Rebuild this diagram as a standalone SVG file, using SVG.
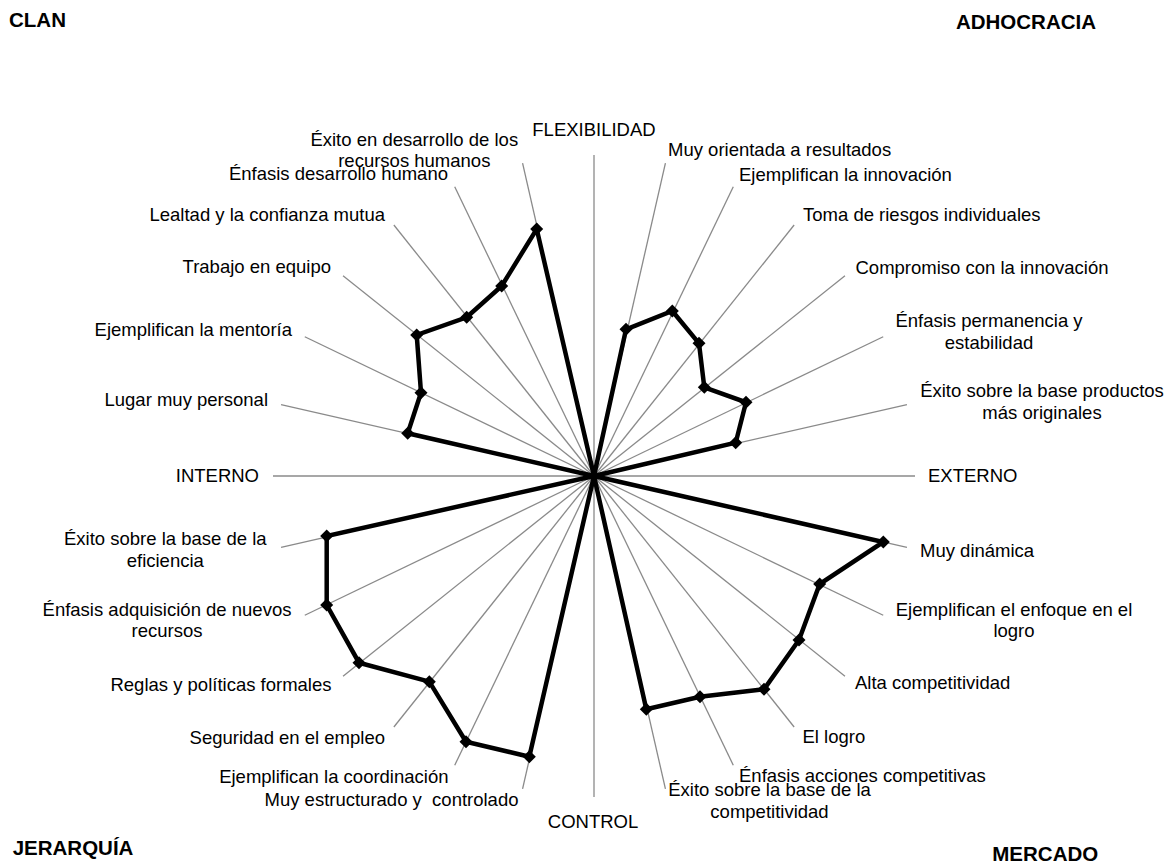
<svg xmlns="http://www.w3.org/2000/svg" width="1173" height="863" viewBox="0 0 1173 863">
<style>
.sp{stroke:#8a8a8a;stroke-width:1.3;fill:none}
.ser{stroke:#000;stroke-width:4.5;fill:none;stroke-linejoin:miter}
text{font-family:"Liberation Sans",Arial,sans-serif;font-size:18.5px;fill:#000}
.c{font-weight:bold;font-size:20.5px}
.m{text-anchor:middle}
.e{text-anchor:end}
</style>
<defs>
<path id="dm" d="M0,-6.5L6.5,0L0,6.5L-6.5,0Z" fill="#000"/>
</defs>
<rect width="1173" height="863" fill="#fff"/>
<g id="spokes" class="sp">
<line x1="594" y1="476" x2="594" y2="155"/>
<line x1="594" y1="476" x2="665.43" y2="163.05"/>
<line x1="594" y1="476" x2="733.28" y2="186.79"/>
<line x1="594" y1="476" x2="794.14" y2="225.03"/>
<line x1="594" y1="476" x2="844.97" y2="275.86"/>
<line x1="594" y1="476" x2="883.21" y2="336.72"/>
<line x1="594" y1="476" x2="906.95" y2="404.57"/>
<line x1="594" y1="476" x2="915" y2="476"/>
<line x1="594" y1="476" x2="906.95" y2="547.43"/>
<line x1="594" y1="476" x2="883.21" y2="615.28"/>
<line x1="594" y1="476" x2="844.97" y2="676.14"/>
<line x1="594" y1="476" x2="794.14" y2="726.97"/>
<line x1="594" y1="476" x2="733.28" y2="765.21"/>
<line x1="594" y1="476" x2="665.43" y2="788.95"/>
<line x1="594" y1="476" x2="594" y2="797"/>
<line x1="594" y1="476" x2="522.57" y2="788.95"/>
<line x1="594" y1="476" x2="454.72" y2="765.21"/>
<line x1="594" y1="476" x2="393.86" y2="726.97"/>
<line x1="594" y1="476" x2="343.03" y2="676.14"/>
<line x1="594" y1="476" x2="304.79" y2="615.28"/>
<line x1="594" y1="476" x2="281.05" y2="547.43"/>
<line x1="594" y1="476" x2="273" y2="476"/>
<line x1="594" y1="476" x2="281.05" y2="404.57"/>
<line x1="594" y1="476" x2="304.79" y2="336.72"/>
<line x1="594" y1="476" x2="343.03" y2="275.86"/>
<line x1="594" y1="476" x2="393.86" y2="225.03"/>
<line x1="594" y1="476" x2="454.72" y2="186.79"/>
<line x1="594" y1="476" x2="522.57" y2="163.05"/>
</g>
<g id="series">
<path class="ser" d="M594,476 L626,329.3 L672.3,311 L699,343.3 L704.3,387.3 L746,402.3 L735.7,442.7 L594,476 L883.3,542 L819.7,584 L799,640 L764,689.3 L700,696.7 L646.3,709.3 L594,476 L529.3,756.7 L466,741.7 L429.3,681.7 L359,662.7 L326.7,605 L326.7,536 L594,476 L407.7,433.3 L421,392.7 L416.7,335 L466.7,317.3 L501.7,286 L536.7,229 Z"/>
<use href="#dm" x="626" y="329.3"/><use href="#dm" x="672.3" y="311"/><use href="#dm" x="699" y="343.3"/><use href="#dm" x="704.3" y="387.3"/><use href="#dm" x="746" y="402.3"/><use href="#dm" x="735.7" y="442.7"/>
<use href="#dm" x="883.3" y="542"/><use href="#dm" x="819.7" y="584"/><use href="#dm" x="799" y="640"/><use href="#dm" x="764" y="689.3"/><use href="#dm" x="700" y="696.7"/><use href="#dm" x="646.3" y="709.3"/>
<use href="#dm" x="529.3" y="756.7"/><use href="#dm" x="466" y="741.7"/><use href="#dm" x="429.3" y="681.7"/><use href="#dm" x="359" y="662.7"/><use href="#dm" x="326.7" y="605"/><use href="#dm" x="326.7" y="536"/>
<use href="#dm" x="407.7" y="433.3"/><use href="#dm" x="421" y="392.7"/><use href="#dm" x="416.7" y="335"/><use href="#dm" x="466.7" y="317.3"/><use href="#dm" x="501.7" y="286"/><use href="#dm" x="536.7" y="229"/>
</g>
<g id="labels">
<text class="m" x="594" y="136">FLEXIBILIDAD</text>
<text x="668" y="156">Muy orientada a resultados</text>
<text x="739" y="181">Ejemplifican la innovación</text>
<text x="803" y="220.5">Toma de riesgos individuales</text>
<text x="855.5" y="274">Compromiso con la innovación</text>
<text class="m" x="989" y="326.5">Énfasis permanencia y</text>
<text class="m" x="989" y="348.5">estabilidad</text>
<text class="m" x="1042" y="396.5">Éxito sobre la base productos</text>
<text class="m" x="1042" y="418.5">más originales</text>
<text x="928" y="481.5">EXTERNO</text>
<text x="920" y="556.5">Muy dinámica</text>
<text class="m" x="1014" y="615.5">Ejemplifican el enfoque en el</text>
<text class="m" x="1014" y="637">logro</text>
<text x="855" y="689">Alta competitividad</text>
<text x="802.5" y="743">El logro</text>
<text x="739" y="781.5">Énfasis acciones competitivas</text>
<text class="m" x="769.5" y="796">Éxito sobre la base de la</text>
<text class="m" x="769.5" y="817.5">competitividad</text>
<text class="m" x="593" y="828">CONTROL</text>
<text class="e" x="518.5" y="806" xml:space="preserve">Muy estructurado y  controlado</text>
<text class="e" x="448.5" y="782.5">Ejemplifican la coordinación</text>
<text class="e" x="385" y="744">Seguridad en el empleo</text>
<text class="e" x="331.5" y="690.5">Reglas y políticas formales</text>
<text class="m" x="167" y="615.5">Énfasis adquisición de nuevos</text>
<text class="m" x="167" y="637">recursos</text>
<text class="m" x="165.3" y="545">Éxito sobre la base de la</text>
<text class="m" x="165.3" y="566.5">eficiencia</text>
<text class="e" x="259" y="481.5">INTERNO</text>
<text class="e" x="268" y="406">Lugar muy personal</text>
<text class="e" x="292" y="336">Ejemplifican la mentoría</text>
<text class="e" x="331" y="272.5">Trabajo en equipo</text>
<text class="e" x="385" y="220.5">Lealtad y la confianza mutua</text>
<text class="e" x="448" y="180">Énfasis desarrollo humano</text>
<text class="m" x="414.3" y="145.7">Éxito en desarrollo de los</text>
<text class="m" x="414.3" y="166.7">recursos humanos</text>
</g>
<g id="corners">
<text class="c" x="9" y="26.7">CLAN</text>
<text class="c e" x="1096" y="29.3">ADHOCRACIA</text>
<text class="c" x="12.7" y="855">JERARQUÍA</text>
<text class="c" x="992.3" y="860.7">MERCADO</text>
</g>
</svg>
